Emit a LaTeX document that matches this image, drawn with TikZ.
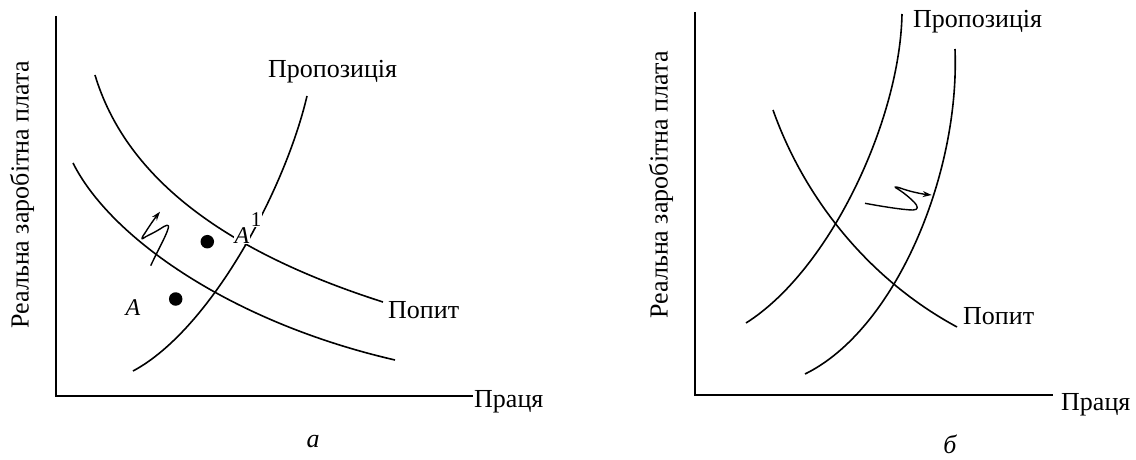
\documentclass[tikz,border=0pt]{standalone}
\usepackage{fontspec}
\setmainfont{Liberation Serif}
\usetikzlibrary{arrows.meta}
\begin{document}
\begin{tikzpicture}[x=1pt,y=-1pt,
  curve/.style={line width=1.6pt},
  axisline/.style={line width=2pt},
  lbl/.style={font=\fontsize{26}{30}\selectfont, inner sep=0pt},
  ptlbl/.style={font=\fontsize{24}{28}\selectfont\itshape, inner sep=0.5pt, fill=white},
  shiftarrow/.style={line width=1.4pt, line join=round, -{Stealth[length=9pt,width=6pt]}},
  dot/.style={circle, fill=black, inner sep=0pt, minimum size=13.5pt}]
\useasboundingbox (0,0) rectangle (1136,460);

% ---------- panel a ----------
\coordinate (ya) at (56,16);
\coordinate (oa) at (56,396);
\coordinate (xa) at (473,396);
\draw[axisline] (ya) -- (oa) -- (xa);
\node[lbl, anchor=west] (pracaA) at (474,402) {Праця};
\node[lbl, rotate=90] (wageA) at (22,195) {Реальна заробітна плата};

% demand (upper), demand (lower), supply
\draw[curve] (95,75) .. controls (125,175) and (220,250) .. (383,302);
\draw[curve] (73,163) .. controls (110,237) and (230,322) .. (395,360);
\draw[curve] (133,371) .. controls (210,330) and (285,190) .. (307,96);

\node[lbl, anchor=west] (propA) at (268,72) {Пропозиція};
\node[lbl, anchor=west] (popytA) at (388,310) {Попит};

\node[dot] (d1) at (207.3,241.7) {};
\node[dot] (d2) at (175.7,299) {};
\node[ptlbl] (A) at (133,308) {A};
\node[ptlbl] (A1) at (242,236) {A};
\node[font=\fontsize{21}{25}\selectfont, inner sep=0.5pt, fill=white] (A1s) at (256,220) {1};

\draw[shiftarrow] (150.7,265.7) .. controls (158,250) and (166,236) .. (168,229)
  .. controls (170,223) and (166,225) .. (160,229)
  .. controls (152,234) and (146,236) .. (143,238.5)
  .. controls (141,240) and (142,237) .. (145,233)
  .. controls (150,225) and (155,218) .. (160,211.7);

\node[font=\fontsize{26}{30}\selectfont\itshape, inner sep=0pt] (capA) at (313,442) {а};

% ---------- panel b ----------
\coordinate (yb) at (695,12);
\coordinate (ob) at (695,395);
\coordinate (xb) at (1053,395);
\draw[axisline] (yb) -- (ob) -- (xb);
\node[lbl, anchor=west] (pracaB) at (1061,405) {Праця};
\node[lbl, rotate=90] (wageB) at (661,185) {Реальна заробітна плата};

% supply 1, supply 2, demand
\draw[curve] (746,323) .. controls (830,270) and (900,120) .. (902,14);
\draw[curve] (805,374) .. controls (895,330) and (960,175) .. (955,49);
\draw[curve] (773,110) .. controls (805,200) and (870,280) .. (957,327);

\node[lbl, anchor=west] (propB) at (913,22) {Пропозиція};
\node[lbl, anchor=west] (popytB) at (963,316) {Попит};

\draw[shiftarrow] (865,203.3) .. controls (885,207) and (905,210) .. (913,210)
  .. controls (919,210) and (918,206) .. (914,202)
  .. controls (908,196) and (900,190) .. (896,188)
  .. controls (893,186) and (898,187) .. (903,189)
  .. controls (912,192) and (922,194) .. (931.7,195);

\node[font=\fontsize{26}{30}\selectfont\itshape, inner sep=0pt] (capB) at (950,444) {б};
\end{tikzpicture}
\end{document}
